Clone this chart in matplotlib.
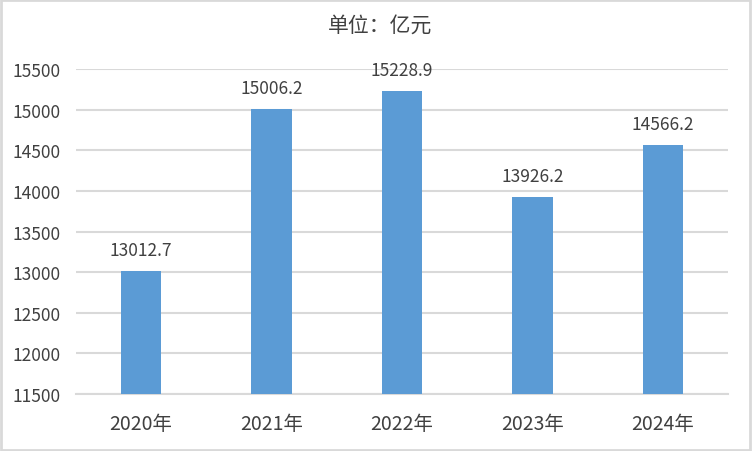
import matplotlib.pyplot as plt
from matplotlib.patches import Rectangle

plt.rcParams['font.family'] = ['Noto Sans CJK SC', 'DejaVu Sans']

years = ["2020年", "2021年", "2022年", "2023年", "2024年"]
values = [13012.7, 15006.2, 15228.9, 13926.2, 14566.2]
yticks = [11500, 12000, 12500, 13000, 13500, 14000, 14500, 15000, 15500]

text_color = "#404040"
grid_color = "#D9D9D9"
bar_color = "#5B9BD5"

fig = plt.figure(figsize=(7.52, 4.52), dpi=100)
ax = fig.add_axes([0.101, 0.126, 0.867, 0.719])

x = range(len(years))
ax.bar(x, values, width=0.31, color=bar_color, zorder=3)
for i, v in zip(x, values):
    ax.text(i, v + 150, "{:.1f}".format(v), ha="center", va="bottom",
            fontsize=12.5, color=text_color)

ax.set_ylim(11500, 15500)
ax.set_xlim(-0.5, len(years) - 0.5)
ax.set_yticks(yticks)
ax.set_xticks(list(x))
ax.set_xticklabels(years, fontsize=14)
ax.tick_params(axis="both", length=0, colors=text_color)
ax.tick_params(axis="y", labelsize=12.5, pad=11)
ax.tick_params(axis="x", pad=14)
ax.grid(axis="y", color=grid_color, linewidth=1.5, zorder=0)
for s in ["top", "right", "left"]:
    ax.spines[s].set_visible(False)
ax.spines["bottom"].set_color(grid_color)
ax.spines["bottom"].set_linewidth(1.5)

fig.text(0.505, 0.943, "单位：亿元", ha="center", va="center",
         fontsize=15, color=text_color)

# light frame around the whole picture
fig.patches.append(Rectangle((0.001, 0.002), 0.997, 0.995, transform=fig.transFigure,
                             fill=False, edgecolor="#D9D9D9", linewidth=2))

plt.savefig("out.png", dpi=100)
